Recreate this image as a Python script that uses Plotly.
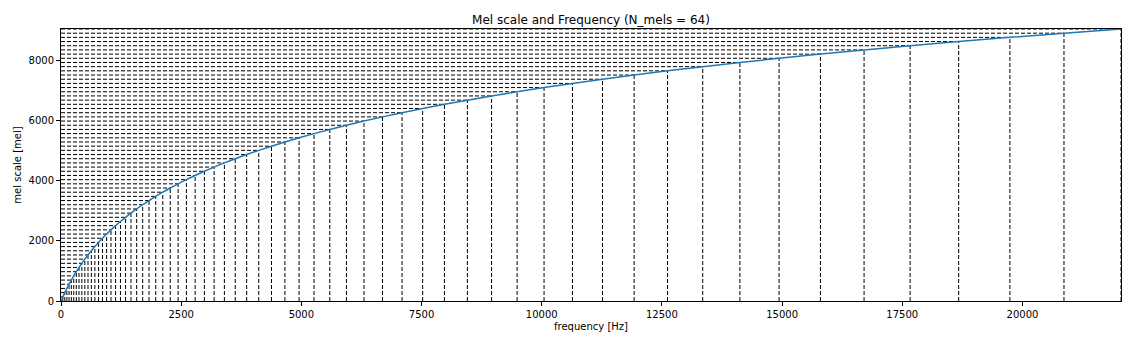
import plotly.graph_objects as go

# Mel band edge points (N_mels + 2 = 66)
mel_points = [0.00, 138.98, 277.96, 416.95, 555.93, 694.91, 833.89, 972.87, 1111.85, 1250.84,
              1389.82, 1528.80, 1667.78, 1806.76, 1945.75, 2084.73, 2223.71, 2362.69, 2501.67, 2640.65,
              2779.64, 2918.62, 3057.60, 3196.58, 3335.56, 3474.55, 3613.53, 3752.51, 3891.49, 4030.47,
              4169.45, 4308.44, 4447.42, 4586.40, 4725.38, 4864.36, 5003.34, 5142.33, 5281.31, 5420.29,
              5559.27, 5698.25, 5837.24, 5976.22, 6115.20, 6254.18, 6393.16, 6532.14, 6671.13, 6810.11,
              6949.09, 7088.07, 7227.05, 7366.04, 7505.02, 7644.00, 7782.98, 7921.96, 8060.94, 8199.93,
              8338.91, 8477.89, 8616.87, 8755.85, 8894.84, 9033.82]

freq_points = [0.00, 38.51, 79.14, 122.01, 167.24, 214.95, 265.29, 318.40, 374.42, 433.54,
               495.90, 561.70, 631.11, 704.35, 781.61, 863.13, 949.13, 1039.86, 1135.58, 1236.57,
               1343.11, 1455.52, 1574.11, 1699.23, 1831.23, 1970.49, 2117.42, 2272.43, 2435.96, 2608.50,
               2790.52, 2982.56, 3185.17, 3398.92, 3624.43, 3862.36, 4113.37, 4378.19, 4657.58, 4952.34,
               5263.32, 5591.40, 5937.54, 6302.73, 6688.00, 7094.47, 7523.30, 7975.73, 8453.05, 8956.63,
               9487.91, 10048.43, 10639.78, 11263.67, 11921.88, 12616.31, 13348.94, 14121.89, 14937.35, 15797.68,
               16705.35, 17662.95, 18673.24, 19739.11, 20863.62, 22050.00]

x_ticks = [0, 2500, 5000, 7500, 10000, 12500, 15000, 17500, 20000]
y_ticks = [0, 2000, 4000, 6000, 8000]

title_text = "Mel scale and Frequency (N_mels = 64)"
x_label = "frequency [Hz]"
y_label = "mel scale [mel]"

# build dashed guide segments from the data arrays
hx, hy, vx, vy = [], [], [], []
for f, m in zip(freq_points, mel_points):
    hx += [0, f, None]
    hy += [m, m, None]
    vx += [f, f, None]
    vy += [0, m, None]

fig = go.Figure()
fig.add_trace(go.Scatter(x=hx, y=hy, mode="lines",
                         line=dict(color="black", width=1, dash="4px,2px"),
                         hoverinfo="skip", showlegend=False))
fig.add_trace(go.Scatter(x=vx, y=vy, mode="lines",
                         line=dict(color="black", width=1, dash="4px,2px"),
                         hoverinfo="skip", showlegend=False))
fig.add_trace(go.Scatter(x=freq_points, y=mel_points, mode="lines",
                         line=dict(color="#1f77b4", width=1.5, shape="spline"),
                         showlegend=False))

font_family = "DejaVu Sans"
fig.update_layout(
    width=1138, height=342,
    margin=dict(l=61, r=17, t=29, b=41),
    paper_bgcolor="white", plot_bgcolor="white",
    font=dict(family=font_family, size=10, color="black"),
    title=dict(text=title_text, x=0.5, xref="paper", xanchor="center",
               y=1 - 20 / 342, yanchor="middle",
               font=dict(family=font_family, size=12, color="black")),
    xaxis=dict(range=[0, 22050], tickvals=x_ticks, ticktext=[str(v) for v in x_ticks],
               ticks="outside", ticklen=4, tickwidth=1, tickcolor="black",
               showline=True, linecolor="black", linewidth=1, mirror=True,
               showgrid=False, zeroline=False,
               title=dict(text=x_label, standoff=3, font=dict(size=10))),
    yaxis=dict(range=[0, 9033.82], tickvals=y_ticks, ticktext=[str(v) for v in y_ticks],
               ticks="outside", ticklen=4, tickwidth=1, tickcolor="black",
               showline=True, linecolor="black", linewidth=1, mirror=True,
               showgrid=False, zeroline=False,
               title=dict(text=y_label, standoff=5, font=dict(size=10))),
)

fig.write_html("out.html")
